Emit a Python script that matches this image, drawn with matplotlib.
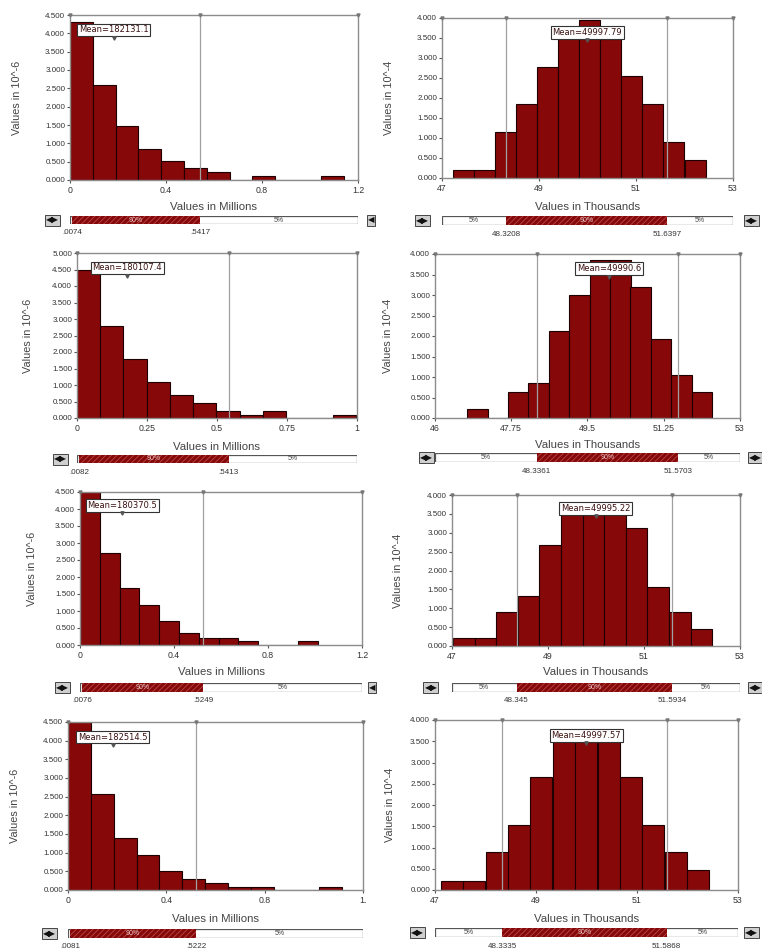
import numpy as np
import matplotlib.pyplot as plt
from matplotlib.transforms import blended_transform_factory

plt.rcParams['font.family'] = ['Liberation Sans', 'DejaVu Sans']
plt.rcParams['hatch.linewidth'] = 0.6

W, H = 762, 949
RED = '#860808'

# ---- data ----
# left column: values in millions, right column: values in thousands
lefts_1 = [0, 0.095, 0.19, 0.285, 0.38, 0.475, 0.57, 0.665, 0.76, 0.855, 0.95, 1.045]
heights_1 = [4.3, 2.6, 1.48, 0.85, 0.53, 0.34, 0.23, 0, 0.11, 0, 0, 0.11]
lefts_2 = [47.23, 47.66, 48.1, 48.53, 48.96, 49.4, 49.83, 50.26, 50.7, 51.13, 51.56, 52.0]
heights_2 = [0.21, 0.21, 1.14, 1.85, 2.77, 3.5, 3.94, 3.47, 2.54, 1.85, 0.9, 0.46]
lefts_3 = [0, 0.083, 0.166, 0.249, 0.332, 0.415, 0.498, 0.581, 0.664, 0.747, 0.83, 0.913]
heights_3 = [4.5, 2.78, 1.8, 1.08, 0.7, 0.45, 0.22, 0.1, 0.22, 0, 0, 0.1]
lefts_4 = [46.74, 47.21, 47.68, 48.14, 48.61, 49.08, 49.55, 50.02, 50.48, 50.95, 51.42, 51.89]
heights_4 = [0.23, 0, 0.64, 0.86, 2.12, 3.0, 3.85, 3.85, 3.2, 1.92, 1.06, 0.64]
lefts_5 = [0, 0.0843, 0.1686, 0.2529, 0.3372, 0.4215, 0.5058, 0.5901, 0.6744, 0.7587, 0.843, 0.9273]
heights_5 = [4.5, 2.72, 1.69, 1.18, 0.71, 0.36, 0.22, 0.22, 0.12, 0, 0, 0.12]
lefts_6 = [47.02, 47.47, 47.92, 48.37, 48.82, 49.27, 49.72, 50.17, 50.62, 51.07, 51.52, 51.97]
heights_6 = [0.22, 0.22, 0.9, 1.33, 2.67, 3.6, 3.65, 3.6, 3.13, 1.57, 0.9, 0.46]
lefts_7 = [0, 0.093, 0.186, 0.279, 0.372, 0.465, 0.558, 0.651, 0.744, 0.837, 0.93, 1.023]
heights_7 = [4.5, 2.57, 1.38, 0.94, 0.52, 0.29, 0.2, 0.09, 0.09, 0, 0, 0.09]
lefts_8 = [47.11, 47.55, 48.0, 48.44, 48.88, 49.33, 49.77, 50.22, 50.66, 51.1, 51.55, 51.99]
heights_8 = [0.22, 0.22, 0.9, 1.53, 2.65, 3.55, 3.6, 3.55, 2.65, 1.53, 0.9, 0.46]

widths = [0.095, 0.434, 0.083, 0.467, 0.0843, 0.45, 0.093, 0.444]
means = [0.1821311, 49.99779, 0.1801074, 49.9906, 0.1803705, 49.99522, 0.1825145, 49.99757]
mean_labels = ['Mean=182131.1', 'Mean=49997.79', 'Mean=180107.4', 'Mean=49990.6',
               'Mean=180370.5', 'Mean=49995.22', 'Mean=182514.5', 'Mean=49997.57']
p5 = [0.0074, 48.3208, 0.0082, 48.3361, 0.0076, 48.345, 0.0081, 48.3335]
p95 = [0.5417, 51.6397, 0.5413, 51.5703, 0.5249, 51.5934, 0.5222, 51.5868]
p5_labels = ['.0074', '48.3208', '.0082', '48.3361', '.0076', '48.345', '.0081', '48.3335']
p95_labels = ['.5417', '51.6397', '.5413', '51.5703', '.5249', '51.5934', '.5222', '51.5868']
ymax = [4.5, 4.0, 5.0, 4.0, 4.5, 4.0, 4.5, 4.0]
xlims = [(0, 1.2), (47, 53), (0, 1), (46, 53), (0, 1.2), (47, 53), (0, 1.2), (47, 53)]
xticks = [[0, 0.4, 0.8, 1.2], [47, 49, 51, 53], [0, 0.25, 0.5, 0.75, 1], [46, 47.75, 49.5, 51.25, 53],
          [0, 0.4, 0.8, 1.2], [47, 49, 51, 53], [0, 0.4, 0.8, 1.2], [47, 49, 51, 53]]
xticklabels = [['0', '0.4', '0.8', '1.2'], ['47', '49', '51', '53'], ['0', '0.25', '0.5', '0.75', '1'],
               ['46', '47.75', '49.5', '51.25', '53'], ['0', '0.4', '0.8', '1.2'], ['47', '49', '51', '53'],
               ['0', '0.4', '0.8', '1.'], ['47', '49', '51', '53']]

all_lefts = [lefts_1, lefts_2, lefts_3, lefts_4, lefts_5, lefts_6, lefts_7, lefts_8]
all_heights = [heights_1, heights_2, heights_3, heights_4, heights_5, heights_6, heights_7, heights_8]

# ---- layout in pixels: axes box (l, t, r, b), slider (t, b), xlabel y, ylabel x, icons ----
boxes = [(70, 15, 358, 180), (442, 18, 733, 178), (77, 253, 357, 418), (435, 254, 740, 418),
         (80, 492, 362, 645), (452, 495, 740, 646), (68, 722, 363, 890), (435, 720, 738, 890)]
sliders = [(216, 224), (216, 225), (455, 463), (453, 462), (683, 692), (683, 692), (929, 938), (928, 937)]
xlabel_y = [207, 207, 447, 445, 672, 672, 919, 919]
ylabel_x = [17, 389, 28, 388, 32, 398, 15, 390]
left_icon_x = [52, 422, 60, 426, 62, 431, 49, 417]
right_icon_x = [371, 751, None, 755, 372, 755, None, 751]


def rect(l, t, r, b):
    return [l / W, 1 - b / H, (r - l) / W, (b - t) / H]


def icon(x, y, txt):
    fig.text(x / W, y, txt, ha='center', va='center', fontsize=6, color='#111',
             family=['DejaVu Sans'],
             bbox=dict(boxstyle='square,pad=0.12', fc='#cfcfcf', ec='#444', lw=0.7))


fig = plt.figure(figsize=(W / 100, H / 100), dpi=100)
fig.patch.set_facecolor('white')

for i in range(8):
    right_col = i % 2 == 1
    l, t, r, b = boxes[i]
    ax = fig.add_axes(rect(l, t, r, b))
    ax.bar(all_lefts[i], all_heights[i], width=widths[i], align='edge',
           color=RED, edgecolor='#1e0000', linewidth=0.8, zorder=2)
    ax.set_xlim(*xlims[i])
    ax.set_ylim(0, ymax[i])
    yt = np.arange(0, ymax[i] + 0.01, 0.5)
    ax.set_yticks(yt)
    ax.set_yticklabels([f'{v:.3f}' for v in yt])
    ax.set_xticks(xticks[i])
    ax.set_xticklabels(xticklabels[i])
    ax.tick_params(axis='y', labelsize=5.8, length=2.5, pad=1, colors='#555', labelcolor='#333')
    ax.tick_params(axis='x', labelsize=6.3, length=2, pad=2, colors='#555', labelcolor='#333')
    for s in ax.spines.values():
        s.set_color('#8c8c8c')
        s.set_linewidth(1)

    # percentile lines and little markers on the top edge
    lines = [p5[i], p95[i]] if right_col else [p95[i]]
    for p in lines:
        ax.axvline(p, color='#a0a0a0', lw=0.9, zorder=3)
    marks = [xlims[i][0]] + lines + [xlims[i][1]]
    ax.plot(marks, [ymax[i]] * len(marks), ls='none', marker='v', ms=2.2,
            color='#777', clip_on=False, zorder=4)

    # mean box with its pointer
    tr = blended_transform_factory(ax.transData, ax.transAxes)
    ax.text(means[i], 0.91, mean_labels[i], transform=tr, ha='center', va='center',
            fontsize=6.0, color='#3a1010', zorder=6, family=['DejaVu Sans'],
            bbox=dict(boxstyle='square,pad=0.22', fc='white', ec='#333', lw=0.8))
    ax.plot([means[i]], [0.862], transform=tr, marker='v', ms=2.4, color='#555', zorder=7)

    # axis titles
    fig.text((l + r) / 2 / W, 1 - xlabel_y[i] / H,
             'Values in Thousands' if right_col else 'Values in Millions',
             ha='center', va='center', fontsize=8.2, color='#444')
    fig.text(ylabel_x[i] / W, 1 - (t + b) / 2 / H,
             'Values in 10^-4' if right_col else 'Values in 10^-6',
             ha='center', va='center', rotation=90, fontsize=7.8, color='#444')

    # percentile slider underneath
    st, sb = sliders[i]
    sax = fig.add_axes(rect(l, st, r, sb))
    sax.set_xlim(*xlims[i])
    sax.set_ylim(0, 1)
    sax.axis('off')
    x0, x1 = xlims[i]
    sax.barh(0.5, x1 - x0, left=x0, height=1, color='white', edgecolor='#555', lw=0.9)
    sax.barh(0.5, p95[i] - p5[i], left=p5[i], height=1, color=RED, edgecolor='#b54a4a',
             hatch='//////', lw=0)
    sax.text((p5[i] + p95[i]) / 2, 0.5, '90%', ha='center', va='center', fontsize=5, color='#e9c9c9')
    sax.text((p95[i] + x1) / 2, 0.5, '5%', ha='center', va='center', fontsize=5, color='#444')
    if right_col:
        sax.text((x0 + p5[i]) / 2, 0.5, '5%', ha='center', va='center', fontsize=5, color='#444')
    off = -9.0 / (sb - st)
    sax.text(p5[i], off, p5_labels[i], ha='center', va='center', fontsize=5.8, color='#333')
    sax.text(p95[i], off, p95_labels[i], ha='center', va='center', fontsize=5.8, color='#333')

    # scroll icons
    cy = 1 - (st + sb) / 2 / H
    icon(left_icon_x[i], cy, '\u25c0\u25b6')
    if right_icon_x[i] is not None:
        icon(right_icon_x[i], cy, '\u25c0\u25b6' if right_col else '\u25c0')

fig.savefig('out.png', dpi=100)
